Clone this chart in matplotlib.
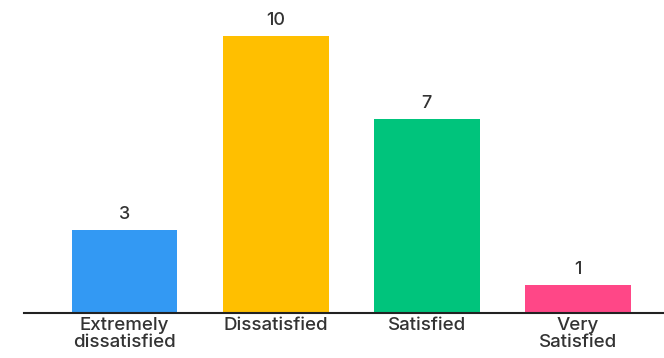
import matplotlib.pyplot as plt

# survey responses per satisfaction level
categories = ['Extremely\ndissatisfied', 'Dissatisfied', 'Satisfied', 'Very\nSatisfied']
counts = [3, 10, 7, 1]
colors = ['#3399F3', '#FFBF00', '#00C47C', '#FF4787']

plt.rcParams['font.family'] = ['Inter', 'DejaVu Sans']

fig = plt.figure(figsize=(6.64, 3.58), dpi=100)
ax = fig.add_axes([0.036, 0.127, 0.964, 0.873])

x = range(len(categories))
bars = ax.bar(x, counts, width=0.70, color=colors)

# value labels above each bar
for bar, val in zip(bars, counts):
    ax.annotate(str(val), (bar.get_x() + bar.get_width() / 2, bar.get_height()),
                xytext=(0, 5), textcoords='offset points', ha='center', va='bottom',
                fontsize=13, fontweight='medium', color='#333333')

ax.set_xlim(-0.666, 3.57)
ax.set_ylim(0, 11.3)
ax.set_xticks(list(x))
ax.set_xticklabels(categories, fontsize=13.5, fontweight='medium', color='#333333',
                   linespacing=1.05)
ax.tick_params(axis='x', length=0, pad=3)
ax.set_yticks([])

for side in ['top', 'right', 'left']:
    ax.spines[side].set_visible(False)
ax.spines['bottom'].set_color('#222222')
ax.spines['bottom'].set_linewidth(1.5)

fig.savefig('out.png', dpi=100)
